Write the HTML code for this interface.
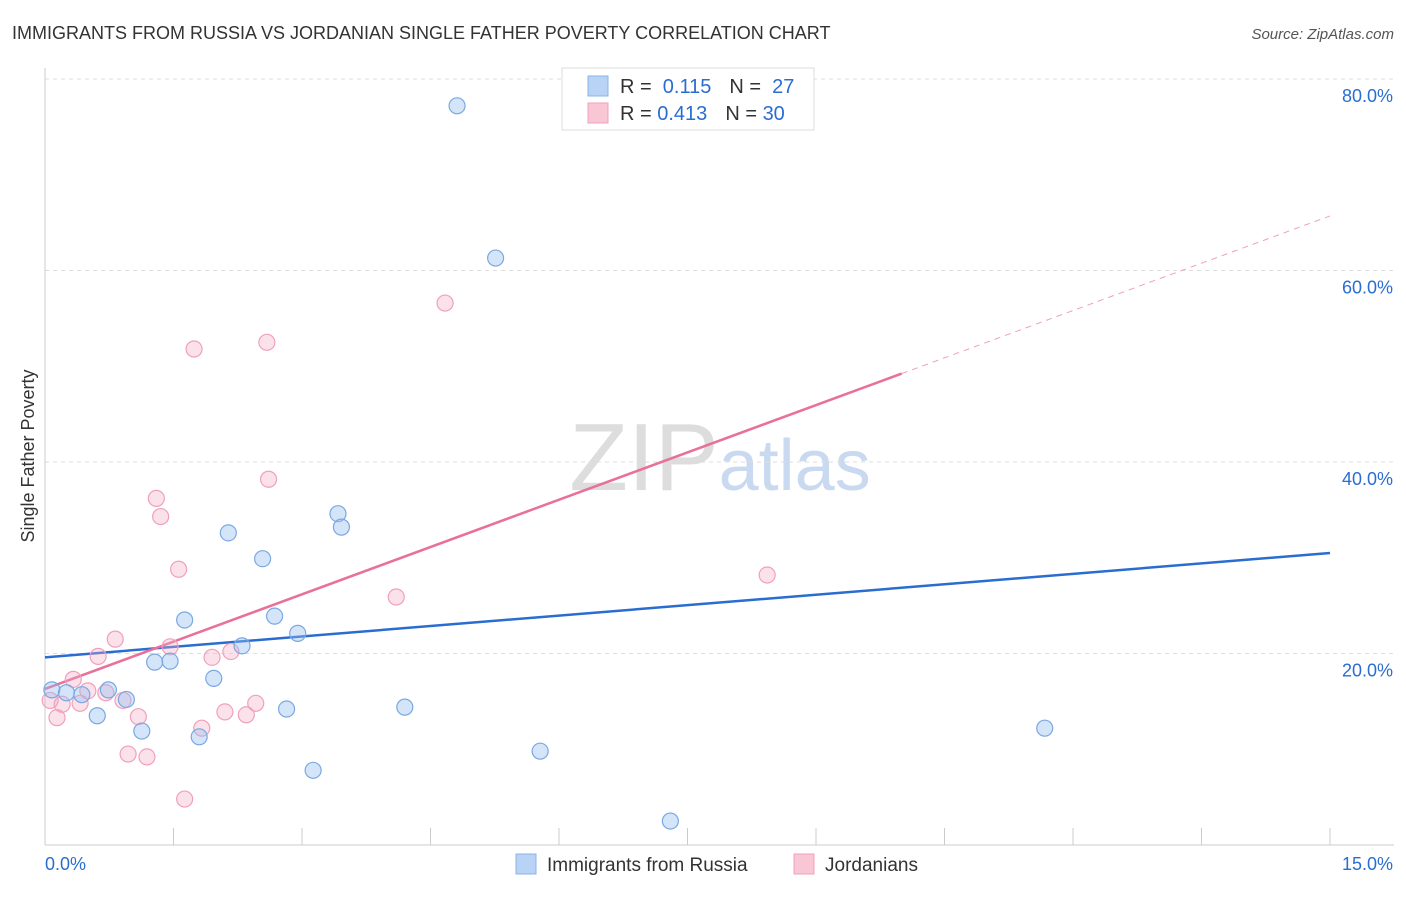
<!DOCTYPE html>
<html><head><meta charset="utf-8"><style>
body{margin:0;background:#fff;font-family:"Liberation Sans",sans-serif}
svg text{font-family:"Liberation Sans",sans-serif}
</style></head><body>
<svg id="chart" width="1406" height="892" xmlns="http://www.w3.org/2000/svg">
<text x="12" y="39" font-size="18" fill="#333">IMMIGRANTS FROM RUSSIA VS JORDANIAN SINGLE FATHER POVERTY CORRELATION CHART</text>
<text x="1394" y="39" font-size="15" fill="#555" text-anchor="end" font-style="italic">Source: ZipAtlas.com</text>
<text x="720" y="490" font-size="96" text-anchor="middle" fill="#ddd" font-family="Liberation Serif">ZIP<tspan fill="#c8d9f0" font-family="Liberation Sans" font-size="72">atlas</tspan></text>
<text transform="translate(34,456) rotate(-90)" font-size="18" fill="#333" text-anchor="middle">Single Father Poverty</text>
<g id="grid"></g><g id="axes"></g><g id="lines"></g><g id="pts"></g>
<g>
<rect x="562" y="68" width="252" height="62" fill="#fff" stroke="#ddd"/>
<rect x="588" y="76" width="20" height="20" fill="#b8d3f5" stroke="#8ab4e8"/>
<rect x="588" y="103" width="20" height="20" fill="#f9c6d5" stroke="#f0a0bc"/>
<text x="620" y="93" font-size="20" fill="#333">R = <tspan fill="#2a6dd1">&#160;0.115</tspan><tspan dx="18">N = </tspan><tspan fill="#2a6dd1">&#160;27</tspan></text>
<text x="620" y="120" font-size="20" fill="#333">R = <tspan fill="#2a6dd1">0.413</tspan><tspan dx="18">N = </tspan><tspan fill="#2a6dd1">30</tspan></text>
</g>
<g>
<rect x="516" y="854" width="20" height="20" fill="#b8d3f5" stroke="#8ab4e8"/>
<text x="547" y="871" font-size="19" fill="#333">Immigrants from Russia</text>
<rect x="794" y="854" width="20" height="20" fill="#f9c6d5" stroke="#f0a0bc"/>
<text x="825" y="871" font-size="19" fill="#333">Jordanians</text>
</g>
</svg>
<script>
const yTicks=[20,40,60,80];
const yTickLabels=["20.0%","40.0%","60.0%","80.0%"];
const russiaX=[4.81,5.26,0.08,0.25,0.43,0.74,0.95,0.61,1.13,1.28,1.46,1.63,1.97,1.80,2.14,2.30,2.54,2.68,2.82,2.95,3.13,3.42,3.46,4.20,5.78,7.30,11.67];
const russiaY=[77.2,61.3,16.2,15.9,15.7,16.2,15.2,13.5,11.9,19.1,19.2,23.5,17.4,11.3,32.6,20.8,29.9,23.9,14.2,22.1,7.8,34.6,33.2,14.4,9.8,2.5,12.2];
const jordanX=[4.67,1.74,2.59,1.30,1.35,2.61,1.56,4.10,8.43,0.82,0.62,1.46,1.95,2.17,0.33,0.50,0.71,0.41,0.91,0.14,1.09,2.10,2.35,2.46,1.83,0.97,1.19,1.63,0.06,0.20];
const jordanY=[56.6,51.8,52.5,36.2,34.3,38.2,28.8,25.9,28.2,21.5,19.7,20.7,19.6,20.2,17.3,16.1,15.9,14.8,15.1,13.3,13.4,13.9,13.6,14.8,12.2,9.5,9.2,4.8,15.1,14.7];
const russiaLine=[19.6,30.5];
const jordanLine=[16.3,65.7];
const jordanSolidEnd=10;
const NS="http://www.w3.org/2000/svg";
const X=v=>45+v/15*1285, Y=v=>845-v/20*191.5;
function mk(p,t,a){const e=document.createElementNS(NS,t);for(const k in a)e.setAttribute(k,a[k]);document.getElementById(p).appendChild(e);return e;}
yTicks.forEach((t,i)=>{
 let l=mk('grid','line',{x1:45,x2:1394,y1:Y(t),y2:Y(t),stroke:'#ddd','stroke-dasharray':'4,4'});
 
 
 let tx=mk('grid','text',{x:1393,y:Y(t)+23,'font-size':18,fill:'#2a6dd1','text-anchor':'end'});tx.textContent=yTickLabels[i];
 
 
});
mk('axes','line',{x1:45,x2:45,y1:68,y2:845,stroke:'#ccc'});
mk('axes','line',{x1:45,x2:1394,y1:845,y2:845,stroke:'#ccc'});
for(let i=0;i<=10;i++){let l=mk('axes','line',{x1:X(i*1.5),x2:X(i*1.5),y1:828,y2:845,stroke:'#ccc'});}
let a=mk('axes','text',{x:45,y:870,'font-size':18,fill:'#2a6dd1'});a.textContent="0.0%";
let b=mk('axes','text',{x:1393,y:870,'font-size':18,fill:'#2a6dd1','text-anchor':'end'});b.textContent="15.0%";
const jy=v=>jordanLine[0]+(jordanLine[1]-jordanLine[0])*v/15;
let l1=mk('lines','line',{x1:X(0),y1:Y(russiaLine[0]),x2:X(15),y2:Y(russiaLine[1]),stroke:'#2a6dd1','stroke-width':2.5});


let l2=mk('lines','line',{x1:X(0),y1:Y(jy(0)),x2:X(jordanSolidEnd),y2:Y(jy(jordanSolidEnd)),stroke:'#e8709a','stroke-width':2.5});


let l3=mk('lines','line',{x1:X(jordanSolidEnd),y1:Y(jy(jordanSolidEnd)),x2:X(15),y2:Y(jy(15)),stroke:'#f0a0bc','stroke-width':1,'stroke-dasharray':'6,5'});


jordanX.forEach((x,i)=>{let c=mk('pts','circle',{cx:X(x),cy:Y(jordanY[i]),r:8,fill:'rgba(244,170,195,0.35)',stroke:'#f0a0bc','stroke-width':1.2});
 
 });
russiaX.forEach((x,i)=>{let c=mk('pts','circle',{cx:X(x),cy:Y(russiaY[i]),r:8,fill:'rgba(150,190,240,0.4)',stroke:'#7aa8e2','stroke-width':1.2});
 
 });
</script>
</body></html>
